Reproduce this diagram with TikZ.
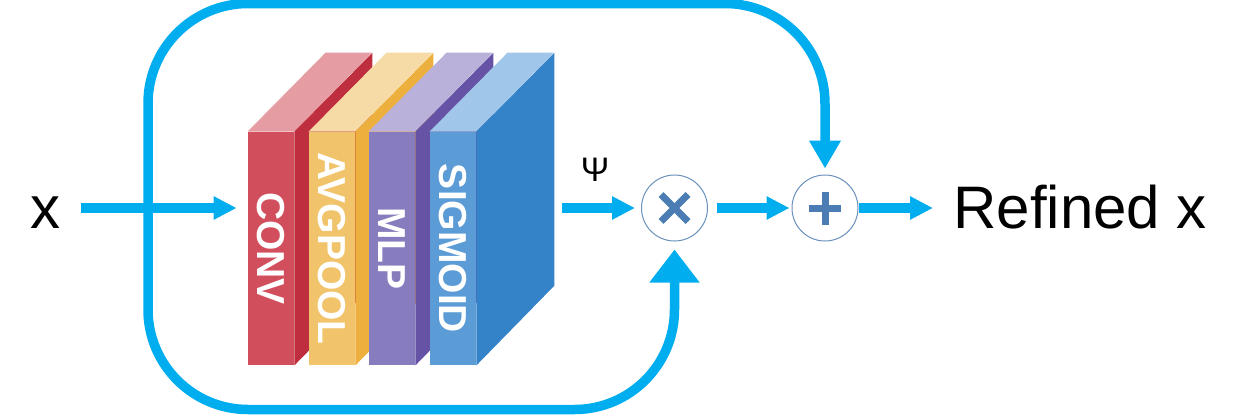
\documentclass[tikz,border=0pt]{standalone}
\usepackage{fontspec}
\setmainfont{Liberation Sans}
\usetikzlibrary{arrows.meta}

\definecolor{flowblue}{HTML}{00ADEF}
\definecolor{ringblue}{HTML}{6A90BC}
\definecolor{signblue}{HTML}{4B7DB4}
\definecolor{convfront}{HTML}{D14F5D}
\definecolor{convside}{HTML}{BE2E3E}
\definecolor{convtop}{HTML}{E59CA3}
\definecolor{avgfront}{HTML}{F1C46B}
\definecolor{avgside}{HTML}{EDB03F}
\definecolor{avgtop}{HTML}{F7DBA7}
\definecolor{mlpfront}{HTML}{877CBD}
\definecolor{mlpside}{HTML}{6753A6}
\definecolor{mlptop}{HTML}{B9B1D9}
\definecolor{sigfront}{HTML}{5C9CD6}
\definecolor{sigside}{HTML}{3483C9}
\definecolor{sigtop}{HTML}{A0C6E9}

\begin{document}
\begin{tikzpicture}[x=0.5pt,y=-0.5pt,
	flow/.style={line width=4.75pt,color=flowblue,-{Triangle[length=11.5pt,width=11pt]}},
	loopline/.style={line width=4.75pt,color=flowblue,rounded corners=50pt},
	blockface/.style={minimum width=23pt,minimum height=116.5pt,inner sep=0pt},
	blocklabel/.style={rotate=-90,text=white,inner sep=0pt,font=\fontsize{19.5}{24}\selectfont\bfseries},
	ring/.style={circle,draw=ringblue,line width=0.5pt,minimum size=33pt,inner sep=0pt},
	sign/.style={line width=3.5pt,color=signblue},
	bigtext/.style={inner sep=10pt,font=\fontsize{30}{36}\selectfont}]

\useasboundingbox (0,0) rectangle (1250,418);

% layers
\foreach \name/\txt/\x/\colF/\colS/\colT in {conv/CONV/271/convfront/convside/convtop,
	avg/AVGPOOL/332/avgfront/avgside/avgtop,
	mlp/MLP/392/mlpfront/mlpside/mlptop,
	sig/SIGMOID/453/sigfront/sigside/sigtop}{
	\node[blockface,fill=\colF] (\name) at (\x,248.5) {};
	\fill[\colT] (\name.north west) -- ++(78,-79) -- ++(46,0) -- (\name.north east) -- cycle;
	\fill[\colS] (\name.north east) -- ++(78,-79) -- ++(0,233) -- (\name.south east) -- cycle;
	\node[blocklabel] (\name-txt) at (\name) {\txt};
}

\node[bigtext,anchor=base] (xin) at (46,228) {x};
\node[bigtext,anchor=base west] (out) at (933,228) {Refined x};
\node[font=\fontsize{17}{20}\selectfont] (psi) at (595,170) {Ψ};

\node[ring] (mul) at (674.5,208) {};
\node[ring] (add) at (825,208) {};
\draw[sign] (mul.center) ++(-13.5,-13.5) -- ++(27,27);
\draw[sign] (mul.center) ++(-13.5,13.5) -- ++(27,-27);
\draw[sign] (add.center) ++(-16,0) -- ++(32,0);
\draw[sign] (add.center) ++(0,-16.5) -- ++(0,33);

% main line
\coordinate (split) at (148,208);
\draw[flow,shorten >=5.5pt] (xin.east |- mul) -- (conv.west |- mul);
\draw[flow,shorten >=3pt] ([xshift=43pt]sig.east |- mul) -- (mul);
\draw[flow,shorten <=4.5pt,shorten >=1pt] (mul) -- (add);
\draw[flow] (add) -- (out.west |- add);

% skip paths
\draw[loopline,-{Triangle[length=14pt,width=15pt]},shorten >=3pt] (split) |- ([yshift=85.5pt]add.north) -- (add.north);
\draw[loopline,-{Triangle[length=16.5pt,width=24pt]},shorten >=4pt] (split) |- ([yshift=-84pt]mul.south) -- (mul.south);

\end{tikzpicture}
\end{document}
